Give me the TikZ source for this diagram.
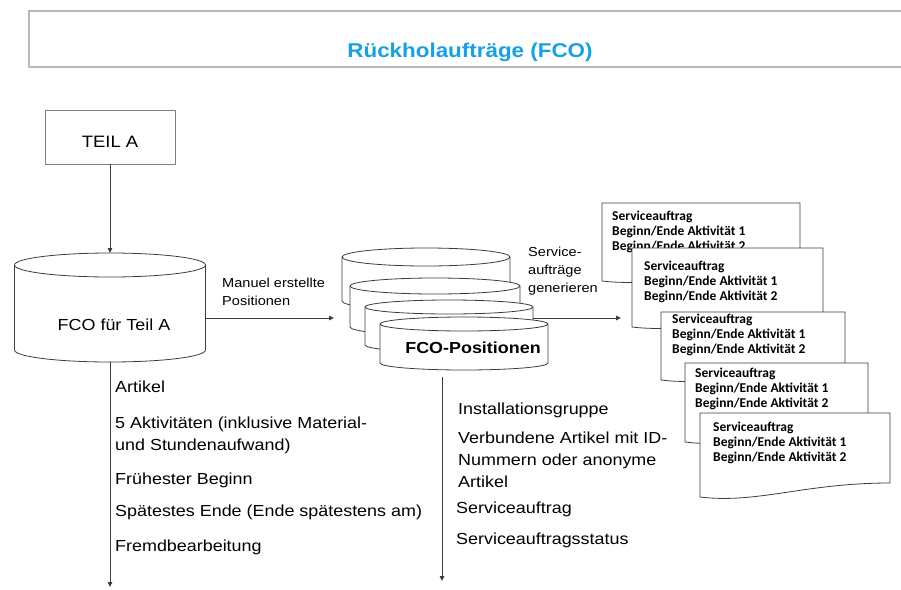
\documentclass[tikz,border=0pt]{standalone}
\usepackage{fontspec}
\setmainfont[FakeStretch=1.12]{Liberation Sans}
\newfontfamily\docfont{Carlito}
\usetikzlibrary{arrows.meta}

\definecolor{titleblue}{RGB}{22,160,230}
\definecolor{linegray}{RGB}{60,60,60}
\definecolor{framegray}{RGB}{185,185,185}

% can: name, cx, cy, width, height, end radius
\newcommand{\dbcan}[6]{%
  \path[canline] (#2-#4/2,#3-#5/2+#6) -- (#2-#4/2,#3+#5/2-#6)
    arc[start angle=180,end angle=0,x radius=#4/2,y radius=#6]
    -- (#2+#4/2,#3-#5/2+#6)
    arc[start angle=0,end angle=-180,x radius=#4/2,y radius=#6] -- cycle;
  \draw[draw=linegray,line width=0.8pt] (#2-#4/2,#3-#5/2+#6)
    arc[start angle=180,end angle=0,x radius=#4/2,y radius=#6];
  \node[inner sep=0pt,outer sep=0pt,minimum width=#4,minimum height=#5] (#1) at (#2,#3) {};
}
% document: name, x, y, width, height, text dx, text dy
\newcommand{\servdoc}[7]{%
  \begin{scope}[shift={(#2,#3)}]
    \path[canline] (0,0) -- (#4,0) -- (#4,#5-14)
      .. controls (0.55*#4,#5-14) and (0.3*#4,#5+7) .. (0,#5) -- cycle;
    \node[doctext] (#1) at (#6,#7) {Serviceauftrag\\Beginn/Ende Aktivit\"at 1\\Beginn/Ende Aktivit\"at 2};
  \end{scope}
}

\begin{document}
\begin{tikzpicture}[x=1pt,y=1pt,yscale=-1,
  flow/.style={draw=linegray,line width=0.8pt,-{Triangle[length=5pt,width=4.5pt]}},
  canline/.style={draw=linegray,line width=0.8pt,fill=white},
  partbox/.style={draw=gray,line width=0.8pt,minimum width=130pt,minimum height=54pt,text height=20pt,font=\fontsize{16.5}{20}\selectfont},
  cyltext/.style={inner sep=0pt,font=\fontsize{16}{19}\selectfont},
  listtext/.style={anchor=north west,inner sep=0pt,align=left,font=\fontsize{16}{22}\selectfont},
  smalllabel/.style={anchor=north west,inner sep=0pt,align=left,font=\fontsize{13}{17.5}\selectfont},
  doctext/.style={anchor=north west,inner sep=0pt,align=left,font=\docfont\bfseries\fontsize{13.5}{15}\selectfont}]
\useasboundingbox (0,0) rectangle (901,589);

%Shape: Banner
\draw[framegray,line width=1.5pt] (901,11) -- (29,11) -- (29,67) -- (901,67);
% Text Node
\node[inner sep=0pt,text=titleblue,font=\bfseries\fontsize{20}{24}\selectfont] (title) at (470,52) {Rückholaufträge (FCO)};

%Shape: Rectangle
\node[partbox] (teil) at (110,137) {TEIL A};

%Shape: Can
\dbcan{fcoA}{110}{307.5}{191}{109}{12}
% Text Node
\node[cyltext] (fcoAtext) at (114,325) {FCO für Teil A};

%Shape: Can stack
\dbcan{pos1}{426}{279}{168}{62}{9}
\dbcan{pos2}{435}{306.5}{170}{57}{8}
\dbcan{pos3}{449}{326}{168}{52}{7}
\dbcan{pos4}{464}{343.5}{168}{53}{7}
% Text Node
\node[cyltext,font=\bfseries\fontsize{16}{19}\selectfont] (posText) at (473,348) {FCO-Positionen};

% free ends
\coordinate (posIn) at (334,318);
\coordinate (genEnd) at (621,318);
\coordinate (listAEnd) at (110,587);
\coordinate (listBTop) at (442,377);
\coordinate (listBEnd) at (442,581);

%Shape: Documents
\servdoc{doc1}{602}{203}{198}{78}{10}{8}
\servdoc{doc2}{632}{248}{191}{79}{12}{13}
\servdoc{doc3}{661}{312}{184}{68}{11}{2}
\servdoc{doc4}{685}{363}{183}{79}{10}{5}
\servdoc{doc5}{700}{413}{190}{84}{13}{9}

% Arrows
\draw[flow] (teil) -- (fcoA);
\draw[flow] (fcoA.east |- posIn) -- (posIn);
\draw[flow] (pos3.east |- genEnd) -- (genEnd);
\draw[flow] (fcoA.south) -- (listAEnd);
\draw[flow] (listBTop) -- (listBEnd);

% Text Node
\node[smalllabel] (manLbl) at (222,278) {Manuel erstellte\\Positionen};
% Text Node
\node[smalllabel,font=\fontsize{13}{18}\selectfont] (genLbl) at (528,247) {Service-\\aufträge\\generieren};

% Text Node
\node[listtext] (itemA1) at (115,380.5) {Artikel};
\node[listtext] (itemA2) at (115,416.5) {5 Aktivitäten (inklusive Material-\\und Stundenaufwand)};
\node[listtext] (itemA3) at (115,472.5) {Frühester Beginn};
\node[listtext] (itemA4) at (115,504.5) {Spätestes Ende (Ende spätestens am)};
\node[listtext] (itemA5) at (115,539.5) {Fremdbearbeitung};

% Text Node
\node[listtext] (itemB1) at (458,402.5) {Installationsgruppe};
\node[listtext] (itemB2) at (458,431.5) {Verbundene Artikel mit ID-\\Nummern oder anonyme\\Artikel};
\node[listtext] (itemB3) at (456,501.5) {Serviceauftrag};
\node[listtext] (itemB4) at (456,532.5) {Serviceauftragsstatus};

\end{tikzpicture}
\end{document}
